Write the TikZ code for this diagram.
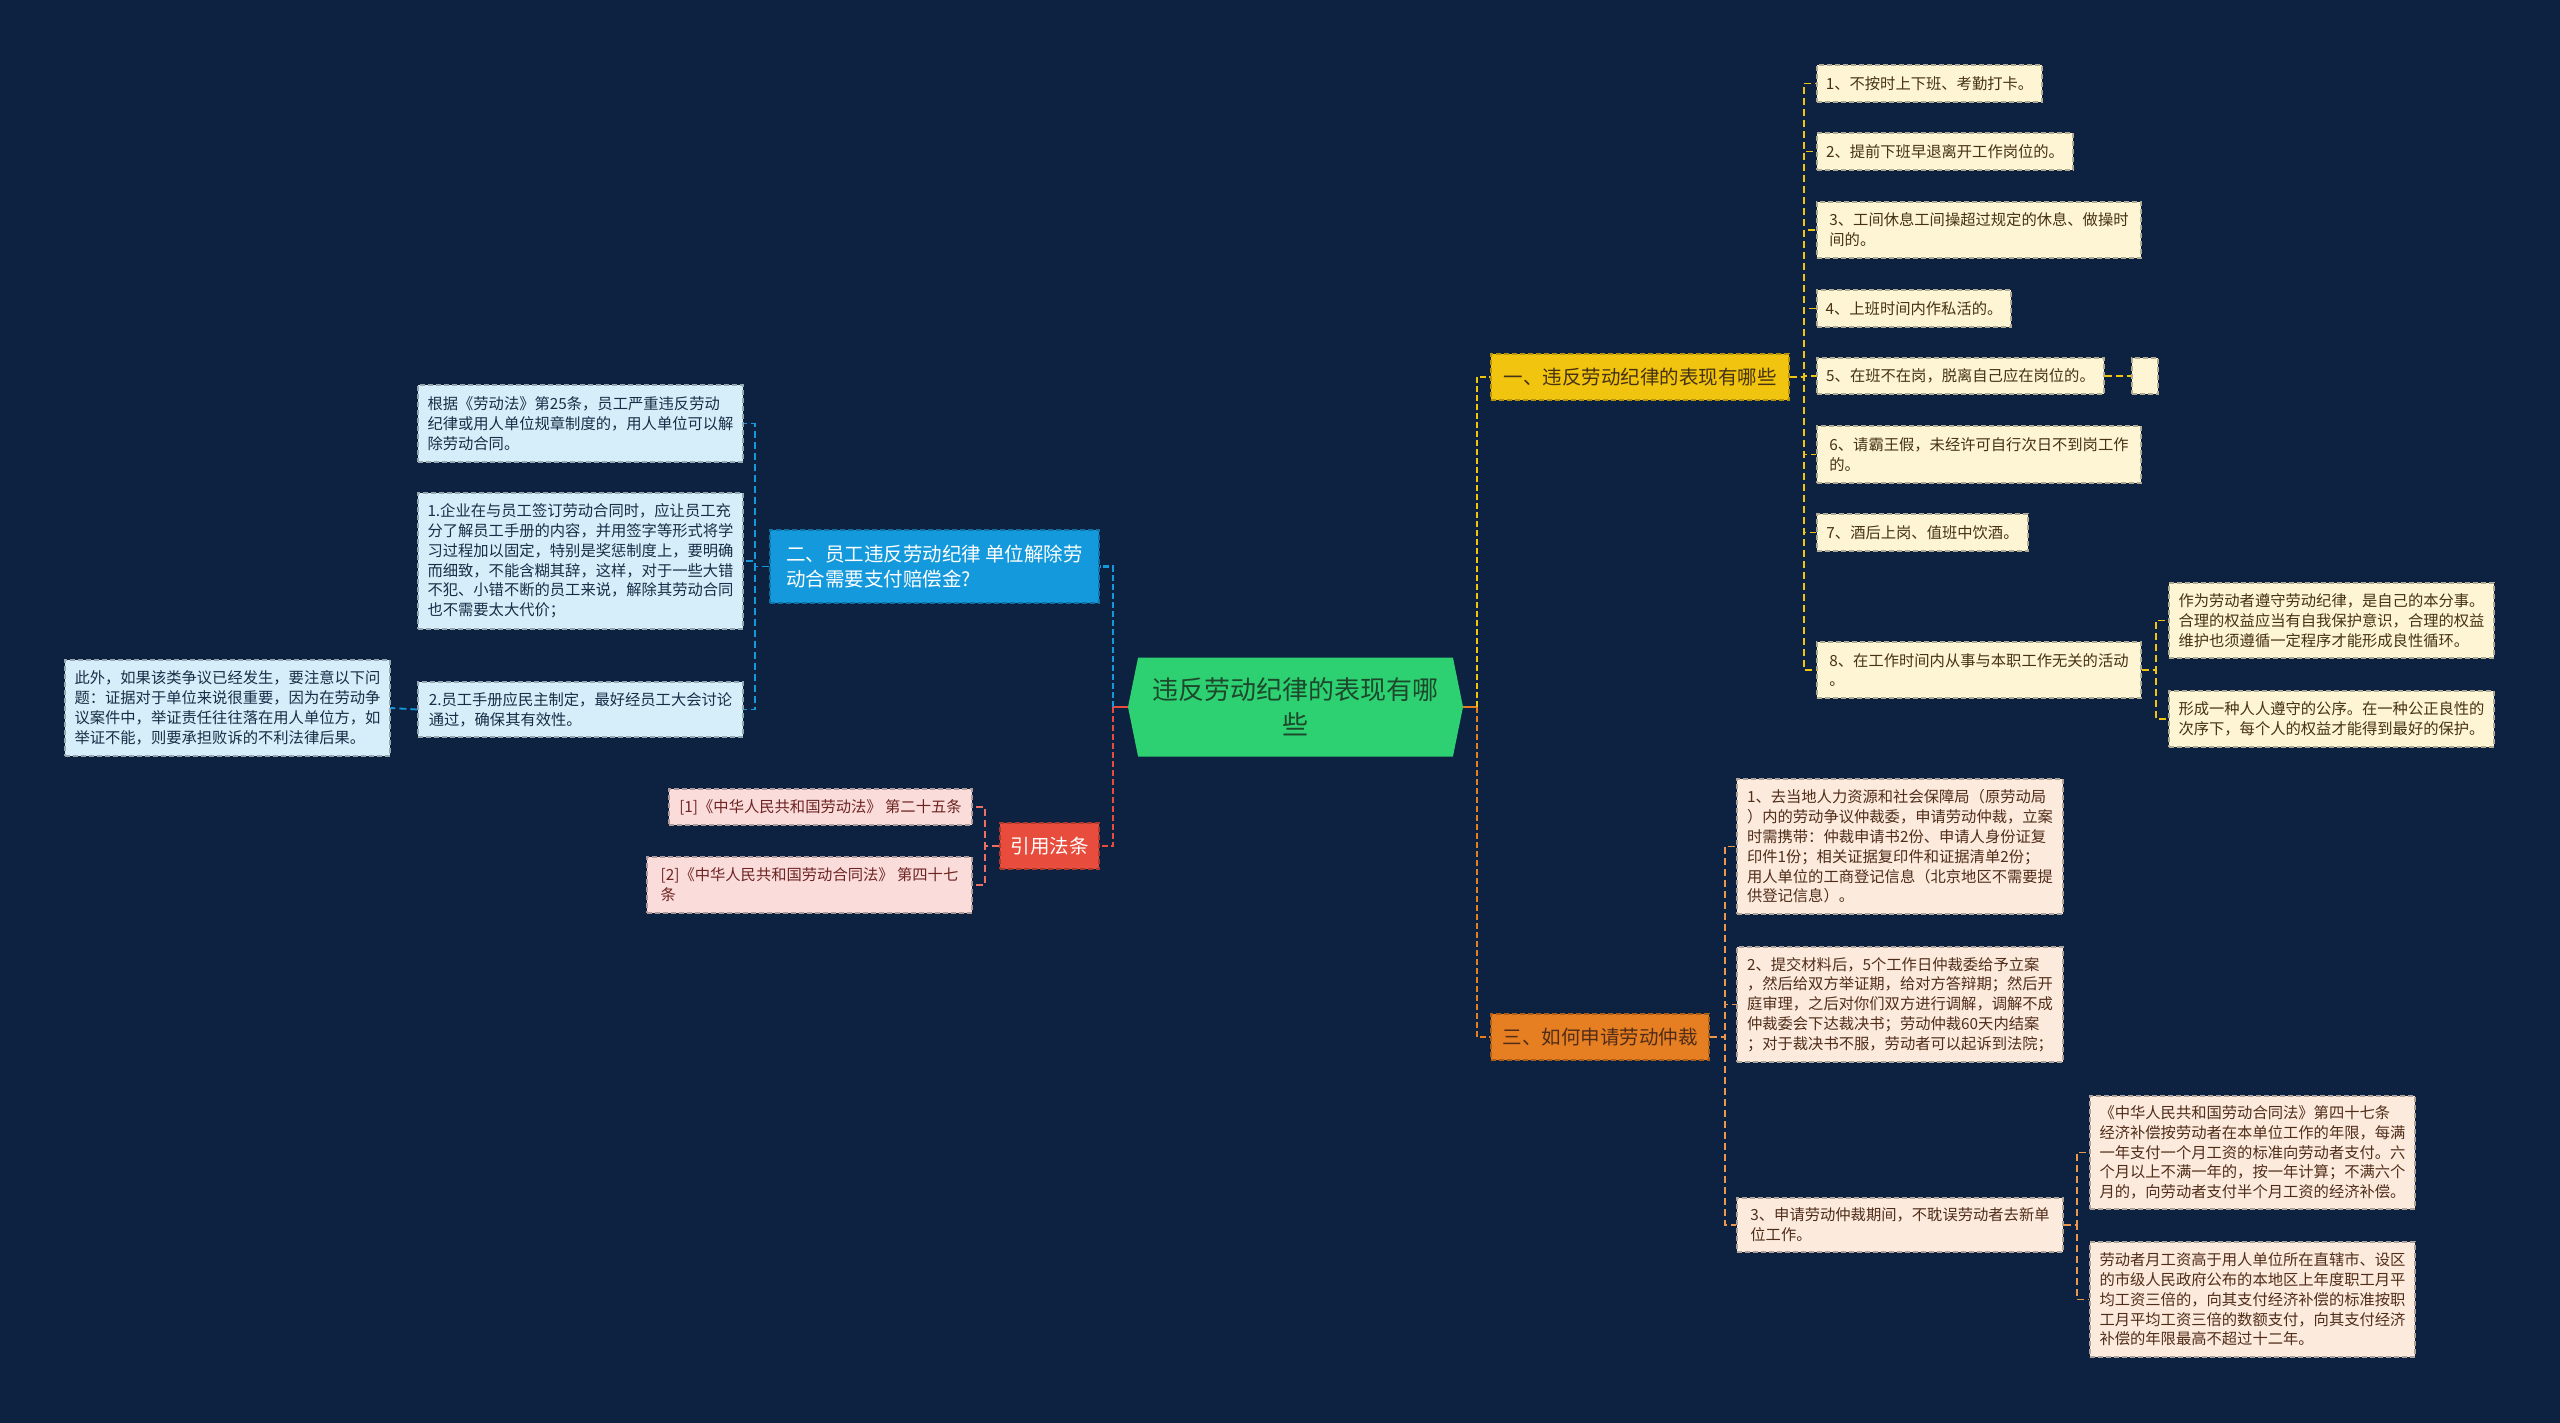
\documentclass[tikz,border=0pt]{standalone}
\usepackage{fontspec}
\setmainfont{Noto Sans CJK SC}
\usetikzlibrary{shapes.symbols}

\definecolor{bgc}{RGB}{12,34,64}
\definecolor{grnc}{RGB}{46,209,113}
\definecolor{grnT}{RGB}{28,72,44}
\definecolor{ylwc}{RGB}{241,196,15}
\definecolor{ylwL}{RGB}{253,245,212}
\definecolor{ylwT}{RGB}{70,50,20}
\definecolor{orgc}{RGB}{230,126,34}
\definecolor{orgL}{RGB}{252,234,220}
\definecolor{orgT}{RGB}{80,45,25}
\definecolor{bluc}{RGB}{20,154,220}
\definecolor{bluL}{RGB}{214,238,250}
\definecolor{bluT}{RGB}{25,45,70}
\definecolor{redc}{RGB}{231,76,60}
\definecolor{redL}{RGB}{250,221,218}
\definecolor{redT}{RGB}{110,35,35}

\begin{document}
\begin{tikzpicture}[
  x={(1pt,0pt)},
  y={(0pt,-1pt)},
  box/.style={draw, dash pattern=on 5pt off 3pt, line width=1.4pt, align=left, inner xsep=8pt, inner ysep=0pt},
  leaf/.style={box, font=\fontsize{15.3}{19.8}\selectfont},
  topic/.style={box, font=\fontsize{19.5}{25}\selectfont},
  sz/.style 2 args={minimum width=#1pt, minimum height=#2pt},
  root/.style={shape=signal, signal to=west and east, signal pointer angle=157, fill=grnc, text=grnT,
    align=center, minimum width=335pt, minimum height=99pt, inner sep=0pt, font=\fontsize{26}{35}\selectfont},
  leafY/.style={leaf, fill=ylwL, draw=ylwL!70!black, text=ylwT},
  leafO/.style={leaf, fill=orgL, draw=orgL!70!black, text=orgT},
  leafB/.style={leaf, fill=bluL, draw=bluL!70!black, text=bluT},
  leafR/.style={leaf, fill=redL, draw=redL!70!black, text=redT},
  stub/.style={line width=2.4pt},
  link/.style={line width=2.4pt, dash pattern=on 6pt off 3pt},
  twig/.style={line width=1.8pt, dash pattern=on 7pt off 4pt},
]

% 背景
\useasboundingbox (0,0) rectangle (2560,1423);
\fill[bgc] (0,0) rectangle (2560,1423);

% 中心主题
\node[root] (root) at (1295.5,707) {违反劳动纪律的表现有哪\\些};

% 一级分支
\node[topic, sz={298}{46}, fill=ylwc, draw=ylwc!75!black, text=ylwT] (br1) at (1640,377) {一、违反劳动纪律的表现有哪些};
\node[topic, sz={329}{73}, fill=bluc, draw=bluc!75!black, text=white] (br2) at (934.5,566.5) {二、员工违反劳动纪律 单位解除劳\\动合需要支付赔偿金?};
\node[topic, sz={218}{46}, fill=orgc, draw=orgc!75!black, text=orgT] (br3) at (1600,1037) {三、如何申请劳动仲裁};
\node[topic, sz={99}{46}, fill=redc, draw=redc!75!black, text=white] (cite) at (1049.5,846) {引用法条};

% 一：表现
\node[leafY, sz={225}{37}] (a1) at (1929.5,83.5) {1、不按时上下班、考勤打卡。};
\node[leafY, sz={256}{37}] (a2) at (1945,151.5) {2、提前下班早退离开工作岗位的。};
\node[leafY, sz={324}{56}] (a3) at (1979,230) {3、工间休息工间操超过规定的休息、做操时\\间的。};
\node[leafY, sz={194}{37}] (a4) at (1914,308.5) {4、上班时间内作私活的。};
\node[leafY, sz={287}{36}] (a5) at (1960.5,376) {5、在班不在岗，脱离自己应在岗位的。};
\node[leafY, sz={26}{36}, inner xsep=0pt] (a5x) at (2145,376) {};
\node[leafY, sz={324}{57}] (a6) at (1979,454.5) {6、请霸王假，未经许可自行次日不到岗工作\\的。};
\node[leafY, sz={211}{37}] (a7) at (1922.5,532.5) {7、酒后上岗、值班中饮酒。};
\node[leafY, sz={324}{56}] (a8) at (1979,670) {8、在工作时间内从事与本职工作无关的活动\\。};
\node[leafY, sz={325}{75}] (a8a) at (2331.5,620.5) {作为劳动者遵守劳动纪律，是自己的本分事。\\合理的权益应当有自我保护意识，合理的权益\\维护也须遵循一定程序才能形成良性循环。};
\node[leafY, sz={325}{56}] (a8b) at (2331.5,719) {形成一种人人遵守的公序。在一种公正良性的\\次序下，每个人的权益才能得到最好的保护。};

% 三：仲裁
\node[leafO, sz={326}{135}] (s1) at (1900,846.5) {1、去当地人力资源和社会保障局（原劳动局\\）内的劳动争议仲裁委，申请劳动仲裁，立案\\时需携带：仲裁申请书2份、申请人身份证复\\印件1份；相关证据复印件和证据清单2份；\\用人单位的工商登记信息（北京地区不需要提\\供登记信息）。};
\node[leafO, sz={326}{115}] (s2) at (1900,1004.5) {2、提交材料后，5个工作日仲裁委给予立案\\，然后给双方举证期，给对方答辩期；然后开\\庭审理，之后对你们双方进行调解，调解不成\\仲裁委会下达裁决书；劳动仲裁60天内结案\\；对于裁决书不服，劳动者可以起诉到法院；};
\node[leafO, sz={326}{54}] (s3) at (1900,1225) {3、申请劳动仲裁期间，不耽误劳动者去新单\\位工作。};
\node[leafO, sz={325}{113}] (s3a) at (2252.5,1152.5) {《中华人民共和国劳动合同法》第四十七条\\经济补偿按劳动者在本单位工作的年限，每满\\一年支付一个月工资的标准向劳动者支付。六\\个月以上不满一年的，按一年计算；不满六个\\月的，向劳动者支付半个月工资的经济补偿。};
\node[leafO, sz={325}{115}] (s3b) at (2252.5,1299.5) {劳动者月工资高于用人单位所在直辖市、设区\\的市级人民政府公布的本地区上年度职工月平\\均工资三倍的，向其支付经济补偿的标准按职\\工月平均工资三倍的数额支付，向其支付经济\\补偿的年限最高不超过十二年。};

% 二：解除合同
\node[leafB, sz={325}{77}] (b1) at (580.5,423.5) {根据《劳动法》第25条，员工严重违反劳动\\纪律或用人单位规章制度的，用人单位可以解\\除劳动合同。};
\node[leafB, sz={325}{136}] (b2) at (580.5,561) {1.企业在与员工签订劳动合同时，应让员工充\\分了解员工手册的内容，并用签字等形式将学\\习过程加以固定，特别是奖惩制度上，要明确\\而细致，不能含糊其辞，这样，对于一些大错\\不犯、小错不断的员工来说，解除其劳动合同\\也不需要太大代价；};
\node[leafB, sz={325}{55}] (b3) at (580.5,709.5) {2.员工手册应民主制定，最好经员工大会讨论\\通过，确保其有效性。};
\node[leafB, sz={325}{96}] (b3a) at (227.5,708) {此外，如果该类争议已经发生，要注意以下问\\题：证据对于单位来说很重要，因为在劳动争\\议案件中，举证责任往往落在用人单位方，如\\举证不能，则要承担败诉的不利法律后果。};

% 引用法条
\node[leafR, sz={303}{36}] (r1) at (820.5,807) {[1]《中华人民共和国劳动法》 第二十五条};
\node[leafR, sz={325}{56}] (r2) at (809.5,885) {[2]《中华人民共和国劳动合同法》 第四十七\\条};

% 中心连线
\draw[stub, draw=redc] (root.west) -- ++(-15,0) coordinate (lj);
\draw[stub, draw=orgc] (root.east) -- ++(14,0) coordinate (rj);
\draw[link, draw=bluc] (lj) |- (br2.east);
\draw[link, draw=redc] (lj) |- (cite.east);
\draw[link, draw=ylwc] (rj) |- (br1.west);
\draw[link, draw=orgc] (rj) |- (br3.west);

% 分支连线
\foreach \i in {1,...,8}
  \draw[twig, draw=ylwc] (br1.east) -- ++(14,0) |- (a\i.west);
\draw[twig, draw=ylwc] (a5.east) -- (a5x.west);
\foreach \i in {a,b}
  \draw[twig, draw=ylwc] (a8.east) -- ++(14,0) |- (a8\i.west);
\foreach \i in {1,2,3}
  \draw[twig, draw=orgc!80!white] (br3.east) -- ++(15,0) |- (s\i.west);
\foreach \i in {a,b}
  \draw[twig, draw=orgc!80!white] (s3.east) -- ++(13,0) |- (s3\i.west);
\foreach \i in {1,2,3}
  \draw[twig, draw=bluc] (br2.west) -- ++(-14,0) |- (b\i.east);
\draw[twig, draw=bluc] (b3.west) -- (b3a.east);
\foreach \i in {1,2}
  \draw[twig, draw=redc!80!white] (cite.west) -- ++(-14,0) |- (r\i.east);

\end{tikzpicture}
\end{document}
